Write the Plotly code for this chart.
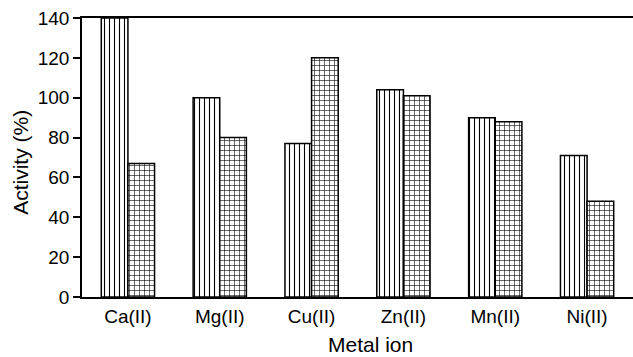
import plotly.graph_objects as go

metals = ["Ca(II)", "Mg(II)", "Cu(II)", "Zn(II)", "Mn(II)", "Ni(II)"]
series_a = [140, 100, 77, 104, 90, 71]
series_b = [67, 80, 120, 101, 88, 48]

font_family = "Liberation Sans, Arial, sans-serif"

fig = go.Figure()
fig.add_trace(go.Bar(
    x=metals, y=series_a, name="A",
    marker=dict(color="white", line=dict(color="black", width=1.5),
                pattern=dict(shape="|", size=5, solidity=0.22,
                             fgcolor="black", bgcolor="white", fillmode="replace")),
))
fig.add_trace(go.Bar(
    x=metals, y=series_b, name="B",
    marker=dict(color="white", line=dict(color="black", width=1.5),
                pattern=dict(shape="+", size=5, solidity=0.22,
                             fgcolor="black", bgcolor="white", fillmode="replace")),
))

fig.update_layout(
    width=633, height=357,
    margin=dict(l=82, r=0, t=18, b=60),
    plot_bgcolor="white", paper_bgcolor="white",
    barmode="group", bargap=0.42, bargroupgap=0,
    showlegend=False,
    font=dict(family=font_family, size=19, color="black"),
)
fig.update_xaxes(
    showline=True, linecolor="black", linewidth=1.5, mirror=True,
    ticks="", showgrid=False, range=[-0.5, 5.5],
    tickfont=dict(size=19), ticklabelstandoff=1,
)
fig.update_yaxes(
    showline=True, linecolor="black", linewidth=1.5,
    ticks="outside", ticklen=7, tickwidth=1.5, tickcolor="black",
    range=[0, 140], tickvals=[0, 20, 40, 60, 80, 100, 120, 140],
    showgrid=False, zeroline=False,
    tickfont=dict(size=19),
)

# axis titles
fig.add_annotation(text="Metal ion", xref="paper", yref="paper",
                   x=0.5245, y=-0.172, xanchor="center", yanchor="middle",
                   showarrow=False, font=dict(size=21))
fig.add_annotation(text="Activity (%)", xref="paper", yref="paper",
                   x=-0.111, y=0.484, xanchor="center", yanchor="middle",
                   textangle=-90, showarrow=False, font=dict(size=21))

fig.write_html("out.html")
